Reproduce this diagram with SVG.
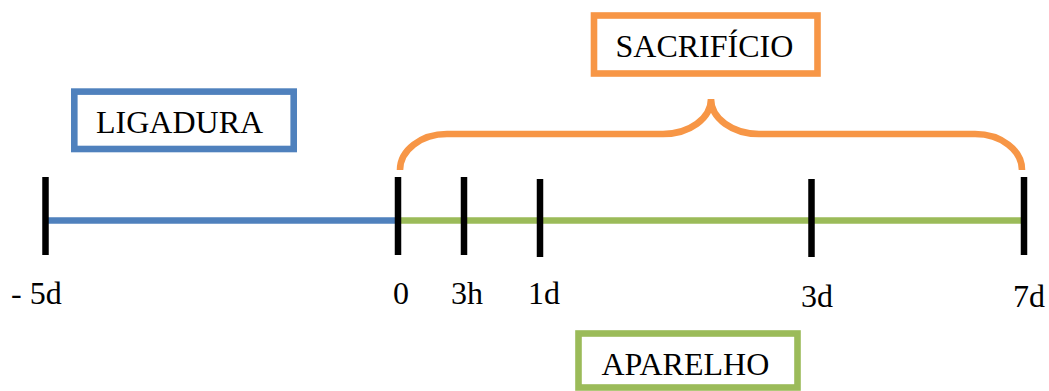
<svg xmlns="http://www.w3.org/2000/svg" width="1049" height="391" viewBox="0 0 1049 391">
<style>
text{font-family:"Liberation Serif","Times New Roman",serif;font-size:32px;fill:#000}
.box{fill:#fff;stroke-width:6.6}
.tick{stroke:#000;stroke-width:6.5}
</style>
<rect width="1049" height="391" fill="#fff"/>
<g id="timeline">
<line x1="45" y1="220.5" x2="398" y2="220.5" stroke="#4F81BD" stroke-width="6.5"/>
<line x1="398" y1="220.5" x2="1023" y2="220.5" stroke="#9BBB59" stroke-width="6.5"/>
<line class="tick" x1="45.5" y1="177" x2="45.5" y2="255"/>
<line class="tick" x1="398" y1="177" x2="398" y2="255"/>
<line class="tick" x1="464" y1="177" x2="464" y2="255"/>
<line class="tick" x1="540" y1="179" x2="540" y2="257"/>
<line class="tick" x1="811.5" y1="179" x2="811.5" y2="257"/>
<line class="tick" x1="1024" y1="177" x2="1024" y2="255"/>
</g>
<g id="labels">
<text x="11" y="304">- 5d</text>
<text x="393" y="304">0</text>
<text x="451" y="304">3h</text>
<text x="528" y="304">1d</text>
<text x="801" y="307">3d</text>
<text x="1013" y="307">7d</text>
</g>
<g id="connectors">
<path d="M400 170 A47 36 0 0 1 447 134 L663 134 A48 35 0 0 0 711 99 A48 35 0 0 0 759 134 L975 134 A47 36 0 0 1 1022 170" fill="none" stroke="#F79646" stroke-width="6.6"/>
</g>
<g id="ligadura">
<rect class="box" x="74.3" y="91.6" width="219.4" height="57.4" stroke="#4F81BD"/>
<text x="96" y="133">LIGADURA</text>
</g>
<g id="sacrificio">
<rect class="box" x="594" y="15.5" width="223.5" height="58" stroke="#F79646"/>
<text x="615.5" y="57">SACRIFÍCIO</text>
</g>
<g id="aparelho">
<rect class="box" x="578.5" y="333.5" width="219" height="54" stroke="#9BBB59"/>
<text x="601.5" y="375">APARELHO</text>
</g>
</svg>
